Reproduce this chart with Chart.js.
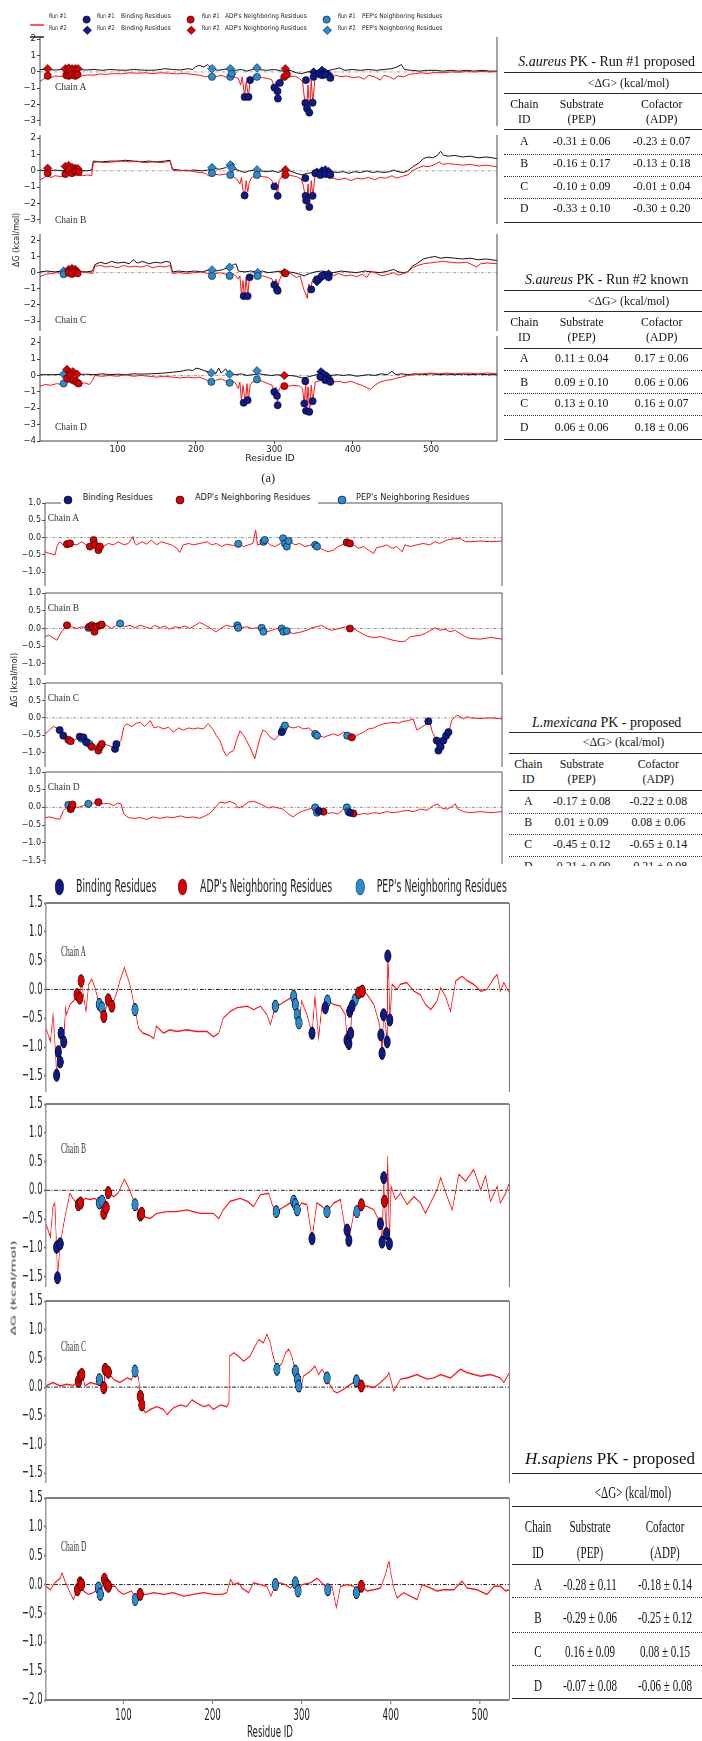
<!DOCTYPE html>
<html>
<head>
<meta charset="utf-8">
<title>Per-residue binding free energy</title>
<script src="https://cdn.jsdelivr.net/npm/chart.js@4.4.1/dist/chart.umd.min.js"></script>
<style>
html,body{margin:0;padding:0;background:#fff;overflow:hidden}
#page{position:relative;width:702px;height:1741px;overflow:hidden;background:#fff}
#clipB{position:absolute;left:0;top:0;width:702px;height:866px;overflow:hidden}
#sq{position:absolute;left:0;top:0;width:1300px;height:1741px;transform:scaleX(0.54);transform-origin:0 0}
canvas{position:absolute}
.t{position:absolute;white-space:nowrap;line-height:1}
.hl{position:absolute;height:0}
</style>
</head>
<body>
<div id="page"><div id="clipB"></div><div id="sq"></div></div>
<script>
const K = 0.54; // panel (c) is horizontally squeezed in the source figure

// ---------- panel (a): S. aureus PK, [residue, dG] ----------
const aRun1A = [[1,-0.6],[5,-0.45],[10,-0.3],[15,-0.35],[20,-0.25],[28,-0.28],[35,-0.22],[42,-0.25],[50,-0.2],[55,-0.25],[62,-0.18],[70,-0.2],[78,-0.12],[85,-0.15],[95,-0.1],[105,-0.12],[115,-0.05],[125,-0.08],[135,-0.05],[145,-0.1],[155,-0.05],[165,-0.08],[175,-0.12],[185,-0.08],[195,-0.15],[205,-0.2],[212,-0.3],[218,-0.25],[225,-0.3],[232,-0.2],[240,-0.35],[248,-0.3],[254,-0.4],[257,-0.8],[259,-0.3],[262,-1.5],[264,-0.6],[267,-1.5],[269,-0.5],[272,-0.3],[278,-0.3],[285,-0.35],[292,-0.4],[297,-0.5],[300,-1.0],[302,-0.6],[304,-1.6],[306,-0.7],[309,-0.3],[314,-0.2],[320,-0.3],[326,-0.25],[332,-0.4],[336,-0.6],[339,-1.9],[341,-2.3],[343,-0.8],[345,-2.5],[347,-0.5],[349,-1.9],[352,-0.3],[358,-0.2],[365,-0.15],[372,-0.35],[378,-0.2],[385,-0.3],[392,-0.25],[400,-0.35],[408,-0.3],[415,-0.45],[420,-0.2],[428,-0.3],[435,-0.5],[440,-0.2],[447,-0.3],[452,-0.45],[458,-0.25],[465,-0.3],[472,-0.15],[480,-0.1],[488,-0.05],[495,-0.1],[505,-0.03],[515,-0.05],[525,0],[535,-0.02],[545,0.02],[555,0],[565,0.03],[575,0],[584,0.02]];
const aRun2A = [[1,0.15],[10,0.15],[20,0.12],[30,0.15],[40,0.1],[50,0.15],[60,0.12],[70,0.15],[80,0.1],[90,0.15],[100,0.12],[110,0.1],[120,0.15],[130,0.12],[140,0.1],[150,0.12],[160,0.2],[170,0.15],[180,0.12],[190,0.2],[196,0.15],[200,0.35],[205,0.4],[210,0.3],[215,0.45],[220,0.2],[228,0.1],[235,0.15],[242,0.2],[250,0.1],[258,0.15],[265,0.05],[272,0.15],[280,0.15],[290,0.1],[300,0.15],[310,0.05],[320,0.1],[328,-0.05],[335,-0.1],[342,0],[350,0.05],[358,0.1],[365,0.05],[375,0.15],[383,0.25],[390,0.1],[400,0.15],[410,0.1],[420,0.15],[430,0.1],[440,0.15],[450,0.2],[456,0.3],[462,0.45],[466,0.15],[475,0.1],[485,0.05],[495,0.1],[505,0.1],[515,0.05],[525,0.1],[535,0.05],[545,0.1],[555,0.05],[565,0.1],[575,0.05],[584,0.05]];
const aRun1B = [[1,-0.55],[5,-0.45],[10,-0.3],[15,-0.4],[20,-0.3],[28,-0.35],[35,-0.2],[42,-0.28],[50,-0.22],[55,-0.3],[62,-0.25],[67,-0.3],[69,0.5],[75,0.55],[85,0.5],[95,0.55],[105,0.6],[115,0.55],[125,0.6],[135,0.5],[145,0.55],[155,0.5],[162,0.55],[167,0.6],[170,0.05],[178,0],[188,0.05],[198,-0.05],[205,-0.1],[212,-0.15],[216,-0.3],[222,-0.2],[230,-0.25],[238,-0.2],[246,-0.3],[252,-0.5],[256,-0.8],[258,-0.4],[260,-1.2],[262,-1.5],[264,-0.6],[266,-1.3],[268,-0.7],[271,-0.4],[278,-0.3],[285,-0.35],[292,-0.4],[297,-0.6],[300,-1.0],[302,-0.7],[304,-1.5],[306,-0.6],[310,-0.3],[316,-0.25],[322,-0.3],[328,-0.35],[334,-0.5],[337,-0.9],[339,-1.5],[341,-1.9],[343,-0.8],[345,-2.2],[347,-0.6],[349,-1.5],[352,-0.3],[360,-0.25],[368,-0.3],[375,-0.45],[382,-0.55],[390,-0.45],[398,-0.6],[405,-0.45],[412,-0.5],[420,-0.4],[428,-0.55],[435,-0.4],[442,-0.45],[450,-0.3],[456,-0.45],[462,-0.35],[470,-0.25],[476,0],[482,0.15],[490,0.3],[496,0.25],[503,0.35],[510,0.55],[515,0.4],[522,0.45],[530,0.4],[540,0.35],[550,0.4],[560,0.3],[570,0.35],[578,0.3],[584,0.25]];
const aRun2B = [[1,0.05],[10,0],[20,0.05],[30,0],[40,0.1],[50,0.05],[60,0],[67,0.05],[69,0.6],[80,0.55],[90,0.6],[100,0.6],[110,0.65],[120,0.6],[130,0.55],[140,0.6],[150,0.55],[160,0.6],[167,0.65],[170,0.1],[178,0.05],[188,0],[198,0.05],[208,0],[215,0.05],[222,0.15],[230,0.1],[238,0.2],[244,0.4],[247,0.5],[250,0.1],[256,0],[262,-0.1],[268,0],[275,0.05],[282,0],[290,-0.05],[298,0],[305,-0.1],[312,0.05],[320,0],[328,-0.15],[335,-0.25],[342,-0.15],[350,-0.1],[358,0],[365,0.05],[372,-0.05],[380,-0.1],[388,-0.05],[395,-0.15],[402,-0.05],[410,-0.1],[418,0],[425,-0.1],[432,-0.05],[440,-0.1],[447,-0.05],[452,0.05],[458,-0.05],[465,-0.1],[470,0],[478,0.3],[485,0.5],[490,0.75],[496,0.85],[502,0.8],[508,0.95],[512,1.2],[516,0.95],[522,0.9],[530,0.95],[540,0.85],[550,0.9],[560,0.8],[570,0.85],[578,0.8],[584,0.75]];
const aRun1C = [[1,-0.25],[8,-0.1],[15,-0.05],[22,0],[30,-0.05],[38,0.05],[46,0],[54,0.05],[62,0],[68,-0.05],[71,0.4],[78,0.45],[85,0.35],[92,0.4],[100,0.3],[108,0.45],[115,0.35],[122,0.4],[130,0.35],[138,0.45],[145,0.3],[152,0.4],[160,0.35],[167,0.45],[170,-0.05],[178,0],[188,-0.05],[198,0],[208,0.05],[215,-0.05],[222,-0.1],[230,0],[238,-0.1],[245,-0.05],[250,-0.15],[254,-0.4],[256,-0.2],[258,-1.4],[260,-0.5],[262,-1.5],[264,-0.3],[266,-1.5],[268,-0.3],[272,-0.2],[278,-0.15],[285,-0.2],[292,-0.3],[297,-0.4],[300,-0.8],[302,-0.4],[304,-1.1],[306,-0.5],[310,-0.1],[316,0],[322,-0.1],[328,-0.3],[333,-0.2],[336,-0.8],[338,-1.1],[340,-1.3],[342,-1.6],[344,-0.7],[346,-1.0],[349,-0.4],[355,-0.2],[362,-0.3],[368,-0.1],[375,-0.2],[382,-0.05],[390,-0.2],[398,-0.15],[405,-0.25],[412,-0.1],[418,-0.3],[423,0.1],[430,-0.05],[437,-0.2],[445,-0.1],[452,0],[458,-0.15],[465,-0.05],[470,0.05],[476,0.3],[483,0.45],[490,0.55],[498,0.6],[506,0.65],[515,0.7],[525,0.65],[535,0.6],[545,0.65],[552,0.5],[558,0.35],[563,0.55],[572,0.6],[584,0.55]];
const aRun2C = [[1,0.05],[10,0.1],[20,0.05],[30,0.1],[40,0.05],[50,0.1],[60,0.05],[68,0.1],[71,0.5],[78,0.65],[85,0.55],[92,0.7],[100,0.6],[108,0.65],[115,0.55],[120,0.8],[125,0.6],[132,0.7],[140,0.55],[148,0.65],[155,0.6],[162,0.7],[167,0.65],[170,0.05],[178,0.1],[188,0.05],[198,0.1],[208,0.05],[215,0.15],[225,0.1],[235,0.2],[242,0.35],[248,0.5],[251,0.55],[254,0.1],[262,0.05],[270,0.1],[278,0.05],[285,0.1],[292,0],[300,0.05],[310,0.1],[318,0.05],[325,0],[332,-0.1],[338,-0.2],[345,-0.05],[352,0.05],[360,0.1],[368,0.05],[375,0],[385,0.1],[395,0.05],[405,0],[415,0.1],[425,0.05],[435,0],[445,0.1],[452,0.2],[458,0.05],[465,0],[470,0.05],[476,0.4],[483,0.6],[490,0.85],[498,0.95],[505,1.0],[512,0.9],[520,0.95],[530,0.9],[540,0.85],[550,0.9],[560,0.8],[570,0.85],[584,0.75]];
const aRun1D = [[1,-0.65],[8,-0.55],[15,-0.6],[22,-0.5],[30,-0.55],[38,-0.4],[45,-0.45],[52,-0.5],[58,-0.45],[64,-0.55],[68,-0.3],[71,0],[80,-0.05],[90,0],[100,-0.05],[110,0.05],[120,-0.05],[130,0],[140,-0.05],[150,-0.1],[160,-0.05],[170,-0.1],[180,-0.15],[190,-0.1],[198,-0.15],[205,-0.1],[212,-0.25],[218,-0.35],[225,-0.3],[232,-0.2],[238,-0.35],[245,-0.3],[250,-0.45],[254,-0.8],[256,-0.4],[258,-1.5],[260,-0.6],[263,-1.7],[265,-0.5],[267,-1.5],[269,-0.6],[272,-0.4],[278,-0.3],[285,-0.35],[292,-0.5],[297,-0.6],[300,-1.0],[302,-0.7],[304,-1.8],[306,-0.8],[310,-0.65],[318,-0.65],[325,-0.6],[332,-0.65],[336,-0.8],[338,-1.7],[340,-0.5],[341,-2.15],[343,-0.7],[345,-2.25],[347,-0.6],[349,-1.6],[352,-0.4],[360,-0.3],[368,-0.35],[375,-0.4],[382,-0.35],[390,-0.45],[398,-0.35],[405,-0.5],[412,-0.6],[418,-0.75],[423,-0.85],[428,-0.6],[435,-0.4],[442,-0.3],[450,-0.25],[456,-0.15],[462,-0.1],[470,0],[478,0.05],[488,0.1],[498,0.15],[510,0.1],[520,0.15],[530,0.1],[545,0.15],[560,0.1],[572,0.15],[584,0.1]];
const aRun2D = [[1,0.05],[10,0.05],[20,0.05],[30,0.08],[40,0.1],[50,0.05],[60,0.08],[70,0.05],[80,0.1],[90,0.05],[100,0.08],[110,0.05],[120,0.1],[130,0.08],[140,0.1],[150,0.12],[160,0.15],[170,0.2],[180,0.25],[190,0.35],[196,0.3],[200,0.45],[205,0.4],[210,0.3],[218,0.2],[225,0.1],[229,0.45],[232,0.15],[238,0.4],[242,0.1],[250,0.05],[258,0.1],[265,0],[272,0.05],[280,0.1],[288,0.05],[296,0],[305,0.05],[312,-0.05],[320,0],[328,-0.05],[335,-0.15],[342,-0.1],[350,0],[358,0.1],[365,0.05],[372,0],[380,0.05],[388,0],[396,0.05],[405,-0.05],[412,0],[420,0.05],[428,0],[436,0.1],[444,0.05],[450,0.25],[455,0.05],[462,0.1],[470,0.05],[480,0.1],[490,0.05],[500,0.1],[510,0.05],[520,0.08],[530,0.05],[540,0.08],[550,0.05],[560,0.08],[572,0.05],[584,0.05]];

// marked residues, Run #1 (circles) and Run #2 (diamonds)
const aBind1A = [[262,-1.53],[267,-1.53],[269,-0.5],[300,-0.96],[304,-1.18],[304.5,-1.63],[307,-0.67],[339.5,-1.9],[340.3,-0.5],[341.6,-2.24],[344.6,-2.49],[348.8,-1.88],[350,-0.3],[360.7,-0.2],[365,-0.16],[371.4,-0.37]];
const aADP1A = [[10.8,-0.24],[34.6,-0.2],[37.6,-0.24],[41.8,-0.16],[46,-0.24],[49,-0.16],[312.7,-0.3],[316,-0.15]];
const aPEP1A = [[220.4,-0.3],[243.8,-0.3],[245.9,-0.1],[277.8,-0.3]];
const aBind2A = [[350,0],[356.5,-0.1],[360.7,0.1],[365,-0.05],[369.2,-0.16]];
const aADP2A = [[10.8,0.2],[33.3,0.2],[37.6,0.24],[41.8,0.2],[46,0.2],[49.5,0.2],[314,0.2]];
const aPEP2A = [[220.4,0.2],[243.8,0.2],[277.8,0.25]];
const aBind1B = [[262,-1.51],[300,-0.96],[304.2,-1.53],[339.5,-0.45],[339.8,-1.53],[340.5,-1.82],[344.6,-2.22],[348.8,-1.53],[352.2,-0.14],[358.6,-0.25],[365,-0.2],[371.4,-0.25]];
const aADP1B = [[10.8,-0.14],[33.3,-0.2],[37.6,0.06],[41.8,-0.14],[46,-0.04],[50.3,-0.08],[314,-0.25]];
const aPEP1B = [[220.4,-0.14],[243.8,-0.25],[277.8,-0.25]];
const aBind2B = [[354.3,-0.08],[360.7,0],[365,0.06],[369.2,-0.04]];
const aADP2B = [[10.8,0.16],[33.3,0.27],[37.6,0.33],[41.8,0.2],[46,0.16],[49.5,0.12],[314,0.06]];
const aPEP2B = [[220.4,0.2],[243.8,0.37],[245.9,0.16],[277.8,0.06]];
const aBind1C = [[260.8,-1.45],[265.9,-1.45],[268.4,-0.29],[299.9,-0.75],[303.3,-1.04],[304.2,-1.12],[347.1,-1.04],[354.3,-0.41],[360.7,-0.2],[369.2,-0.29]];
const aADP1C = [[37.6,0],[41.8,-0.08],[46.1,0.06],[49,-0.04],[314,-0.04]];
const aPEP1C = [[31.2,-0.1],[220.4,-0.2],[242.9,-0.2],[278.6,-0.2]];
const aBind2C = [[354.3,-0.56],[358.6,-0.35],[362.8,-0.15],[369.2,-0.08]];
const aADP2C = [[37.6,0.2],[41.8,0.25],[46.1,0.2],[312.7,0]];
const aPEP2C = [[31.2,0.1],[220.4,0.17],[242.9,0.33],[278.6,0]];
const aBind1D = [[260.8,-1.67],[265.9,-1.51],[299.9,-1.0],[303.3,-1.24],[304.2,-1.82],[339.5,-0.35],[338.2,-1.71],[340.3,-2.16],[344.6,-2.22],[348.8,-1.57],[358.6,-0.08],[365,-0.29],[371.4,-0.39]];
const aADP1D = [[35.4,-0.18],[39.7,0.02],[43.1,-0.29],[47.3,-0.39],[50.3,-0.49],[312.7,-0.65]];
const aPEP1D = [[31.2,-0.49],[219.6,-0.39],[242.9,-0.45],[277.8,-0.24]];
const aBind2D = [[359.4,0.22],[362.8,0.08],[367.1,-0.04],[369.2,-0.18]];
const aADP2D = [[35.4,0.37],[39.7,0.16],[43.1,0.22],[48.2,0.08],[312.7,0]];
const aPEP2D = [[31.2,0.08],[219.6,0.16],[242.9,0.08],[277.8,0.29]];

// ---------- panel (b): L. mexicana PK ----------
const bA = [[0,-0.41],[5,-0.46],[11,-0.5],[13,-0.26],[16,-0.12],[20,-0.21],[24,-0.17],[29,-0.19],[35,-0.21],[40,-0.12],[45,-0.21],[49,-0.26],[53,-0.1],[56,-0.21],[60,-0.31],[64,-0.26],[69,-0.17],[75,-0.21],[80,-0.12],[86,-0.21],[91,-0.17],[95,-0.02],[96,0.03],[98,-0.17],[100,-0.21],[106,-0.12],[111,-0.19],[116,-0.07],[122,-0.21],[127,-0.12],[133,-0.17],[138,-0.21],[144,-0.31],[147,-0.43],[151,-0.21],[157,-0.17],[162,-0.21],[169,-0.17],[177,-0.12],[182,-0.21],[187,-0.17],[193,-0.26],[198,-0.19],[206,-0.23],[211,-0.18],[217,-0.26],[222,-0.21],[227,-0.17],[230,0.22],[232,-0.21],[237,-0.17],[240,-0.07],[246,-0.21],[251,-0.26],[257,-0.17],[260,-0.07],[263,-0.21],[268,-0.12],[273,-0.21],[278,-0.17],[284,-0.26],[291,-0.21],[297,-0.26],[302,-0.33],[309,-0.41],[315,-0.36],[320,-0.26],[326,-0.19],[331,-0.14],[337,-0.21],[342,-0.31],[348,-0.26],[353,-0.36],[359,-0.46],[362,-0.29],[368,-0.26],[373,-0.21],[379,-0.31],[384,-0.26],[390,-0.41],[393,-0.21],[399,-0.26],[406,-0.21],[413,-0.17],[420,-0.21],[426,-0.12],[431,-0.17],[439,-0.07],[446,-0.04],[453,-0.02],[459,-0.12],[464,-0.12],[475,-0.1],[487,-0.12],[499,-0.1]];
const bB = [[0,-0.23],[4,-0.19],[9,-0.26],[13,-0.33],[18,-0.09],[24,0.09],[29,0.05],[35,0],[40,0.05],[45,0.02],[49,0.05],[54,-0.09],[56,0.05],[60,0.09],[64,0.05],[67,0.09],[73,0],[78,0.09],[82,0.14],[87,0.05],[93,0.09],[98,0.02],[104,0.09],[109,0.05],[115,0],[120,0.09],[126,0.02],[131,0.07],[136,-0.02],[142,0.05],[147,0.02],[153,0.07],[158,0],[164,0.09],[169,0.17],[174,0.11],[178,0.05],[184,-0.05],[187,-0.09],[193,0.02],[198,0.09],[204,0.05],[209,0.09],[215,0.02],[220,0.05],[226,0],[231,0.02],[237,-0.05],[242,-0.09],[248,-0.05],[253,0],[258,-0.02],[264,-0.09],[271,-0.14],[278,-0.11],[286,-0.05],[291,0.02],[297,0.05],[302,0.09],[308,0],[313,-0.05],[318,-0.02],[324,0.02],[329,0.05],[335,0.02],[340,-0.05],[346,-0.14],[351,-0.21],[359,-0.26],[366,-0.23],[373,-0.28],[380,-0.33],[388,-0.37],[393,-0.36],[399,-0.23],[404,-0.21],[410,-0.19],[415,-0.14],[420,-0.07],[426,0.02],[431,-0.05],[437,-0.02],[442,-0.09],[448,-0.05],[453,-0.14],[459,-0.23],[464,-0.28],[475,-0.3],[487,-0.25],[499,-0.3]];
const bC = [[0,-0.46],[4,-0.37],[9,-0.25],[13,-0.29],[16,-0.35],[22,-0.56],[27,-0.65],[33,-0.63],[38,-0.54],[44,-0.65],[47,-0.75],[51,-0.83],[55,-0.8],[58,-0.94],[62,-0.75],[67,-0.77],[73,-0.83],[76,-0.89],[80,-0.75],[83,-0.65],[86,-0.27],[89,-0.17],[95,-0.25],[100,-0.15],[104,-0.13],[109,-0.25],[115,-0.08],[119,-0.29],[124,-0.25],[129,-0.32],[135,-0.27],[140,-0.41],[146,-0.29],[151,-0.35],[157,-0.29],[162,-0.32],[167,-0.29],[173,-0.32],[178,-0.17],[184,-0.35],[187,-0.51],[191,-0.65],[195,-0.94],[198,-1.09],[202,-0.99],[206,-0.94],[209,-0.65],[213,-0.37],[217,-0.51],[220,-0.65],[224,-0.85],[227,-1.04],[229,-1.18],[232,-0.85],[235,-0.56],[238,-0.35],[242,-0.41],[246,-0.56],[251,-0.63],[256,-0.46],[260,-0.29],[266,-0.25],[271,-0.29],[277,-0.25],[282,-0.32],[288,-0.29],[293,-0.41],[298,-0.48],[304,-0.56],[309,-0.51],[315,-0.46],[320,-0.51],[326,-0.41],[331,-0.46],[337,-0.56],[342,-0.48],[348,-0.41],[353,-0.32],[359,-0.29],[364,-0.22],[370,-0.17],[375,-0.15],[380,-0.13],[386,-0.15],[391,-0.1],[397,-0.08],[402,-0.03],[406,-0.35],[411,-0.27],[417,-0.17],[420,-0.1],[423,-0.41],[428,-0.65],[430,-0.94],[433,-0.8],[437,-0.56],[441,-0.41],[444,-0.08],[448,0.04],[451,0.07],[457,-0.03],[461,0.04],[464,0],[475,-0.02],[487,0],[499,-0.03]];
const bD = [[0,-0.29],[5,-0.27],[11,-0.31],[16,-0.34],[20,-0.1],[26,0.05],[31,0.02],[36,0],[42,0.05],[47,0.1],[53,0.12],[58,0.15],[64,0.1],[69,0.12],[75,0.05],[79,0.12],[83,0.1],[86,-0.19],[91,-0.29],[97,-0.31],[104,-0.29],[111,-0.34],[118,-0.27],[126,-0.31],[133,-0.27],[140,-0.29],[148,-0.24],[155,-0.29],[162,-0.27],[169,-0.31],[175,-0.24],[180,-0.17],[186,0],[191,0.15],[197,0.12],[202,0.17],[208,0.1],[211,-0.02],[217,0.05],[222,0.15],[228,0.17],[233,0.12],[239,0.05],[244,-0.02],[249,0.02],[255,-0.02],[260,-0.05],[266,-0.19],[271,-0.27],[277,-0.15],[282,-0.1],[288,-0.05],[293,0],[299,-0.15],[304,-0.12],[309,-0.17],[315,-0.15],[320,-0.19],[326,-0.05],[331,-0.02],[337,-0.17],[342,-0.21],[348,-0.17],[353,-0.19],[359,-0.15],[366,-0.17],[373,-0.12],[380,-0.15],[388,-0.12],[395,-0.08],[402,-0.12],[410,-0.05],[417,-0.08],[424,0.05],[429,0.1],[433,-0.02],[439,-0.05],[444,0.02],[448,0.1],[451,-0.05],[457,-0.12],[464,-0.15],[475,-0.12],[487,-0.15],[499,-0.12]];
const bBindA = [];
const bADPA = [[24,-0.19],[27.3,-0.17],[49,-0.26],[53,-0.07],[54.6,-0.21],[58.3,-0.36],[60,-0.26],[329.5,-0.14],[333,-0.17]];
const bPEPA = [[211,-0.18],[238.5,-0.12],[240,-0.07],[260,-0.02],[262,-0.17],[264,-0.26],[266,-0.1],[295,-0.21],[297,-0.26]];
const bBindB = [];
const bADPB = [[24,0.09],[48.5,0.05],[51,0.09],[53,0.02],[54,-0.09],[56.5,0.05],[60,0.09],[62,0.11],[333,0]];
const bPEPB = [[47.4,0.02],[82,0.14],[210,0.09],[211,0.02],[236.6,0.02],[238.5,-0.09],[258.5,0],[260.3,-0.09],[264,-0.07]];
const bBindC = [[16,-0.35],[20,-0.51],[38,-0.54],[42,-0.56],[45,-0.7],[76.5,-0.89],[78,-0.75],[258.5,-0.41],[418.6,-0.1],[427.7,-0.65],[429.6,-0.94],[432,-0.83],[435,-0.65],[438,-0.51],[440.5,-0.41]];
const bADPC = [[25.5,-0.63],[28,-0.67],[51,-0.83],[58.3,-0.94],[60,-0.83],[62,-0.75],[335,-0.56]];
const bPEPC = [[40,-0.6],[46,-0.7],[48.5,-0.75],[260,-0.32],[262,-0.22],[295,-0.46],[297,-0.51],[330,-0.51],[431,-0.75]];
const bBindD = [[299,-0.1],[333,-0.15]];
const bADPD = [[28,-0.05],[29,0],[30,0.08],[58.3,0.15],[304,-0.12],[336.7,-0.17]];
const bPEPD = [[25.5,0.07],[47.4,0.1],[295,0],[297,-0.15],[329.5,0],[331.3,-0.12]];

// ---------- panel (c): H. sapiens PK ----------
const cA = [[13,-0.67],[18,-0.9],[21,-0.44],[23,-0.9],[25,-1.49],[27,-1.08],[29,-1.26],[30,-0.76],[33,-0.91],[35,-0.32],[36,-0.44],[40,-0.26],[44,-0.2],[48,-0.09],[51,-0.15],[52.5,0.15],[55,-0.09],[58,-0.38],[61,0.09],[64.5,0.18],[68,0.03],[73,-0.26],[76,-0.32],[78,-0.47],[83,-0.18],[87,-0.29],[93,-0.03],[96,0.15],[101,0.38],[106,0.15],[109,-0.03],[113,-0.35],[117,-0.67],[122,-0.76],[128,-0.79],[134,-0.85],[137,-0.64],[145,-0.76],[152,-0.7],[160,-0.73],[171,-0.7],[182,-0.73],[194,-0.73],[201,-0.82],[207,-0.76],[212,-0.5],[220,-0.38],[227,-0.32],[239,-0.29],[246,-0.35],[254,-0.29],[261,-0.44],[265,-0.61],[270.5,-0.29],[276,-0.26],[284,-0.18],[291,-0.12],[293,-0.26],[295,-0.44],[297,-0.58],[300,-0.2],[306,-0.44],[311.7,-0.76],[315,-0.12],[319,-0.85],[323,-0.26],[326.6,-0.32],[329,-0.2],[336,-0.26],[343.5,-0.29],[349,-0.44],[351,-0.88],[353,-0.94],[355,-0.76],[356.6,-0.29],[360,-0.18],[364,-0.06],[368,-0.03],[373.5,-0.09],[381,-0.26],[386.6,-0.56],[389,-0.79],[390.3,-1.11],[392,-0.44],[394,-0.61],[396,-0.91],[396.7,0.58],[398,0.15],[399,-0.53],[401.5,0.09],[407,0],[411,0.09],[418,0.12],[426,-0.03],[433,-0.09],[439,-0.26],[445,-0.35],[452,-0.2],[456,0.03],[461.5,-0.12],[467,-0.38],[473,0.15],[480,0.23],[486,0.15],[493,0.09],[501,-0.03],[508,0],[516,0.2],[519.5,0.26],[523,-0.03],[527,0.12],[533,-0.06]];
const cB = [[13,-0.58],[18,-0.81],[21,-0.28],[23,-0.22],[25,-0.99],[26,-1.52],[29,-0.93],[33,-0.58],[36,-0.34],[40,-0.05],[44,-0.16],[49.5,-0.25],[52,-0.22],[57,-0.14],[62.6,-0.16],[68,-0.14],[73,-0.22],[76,-0.19],[78,-0.4],[80.6,-0.14],[83,-0.04],[89,-0.11],[94,-0.05],[101,0.19],[106,0.04],[109,-0.08],[113,-0.25],[119,-0.43],[122.5,-0.46],[130,-0.49],[137.5,-0.4],[149,-0.37],[160,-0.37],[171,-0.34],[186,-0.4],[201,-0.4],[207,-0.49],[212,-0.34],[220,-0.19],[231,-0.14],[239,-0.19],[246,-0.28],[253.6,-0.08],[263,-0.05],[267,-0.25],[271.6,-0.37],[278,-0.31],[287,-0.22],[291,-0.19],[295,-0.34],[300,-0.22],[306,-0.25],[311.7,-0.84],[317,-0.22],[323,-0.28],[328.5,-0.37],[336,-0.22],[343.5,-0.16],[349,-0.69],[351,-0.69],[353,-0.87],[358.5,-0.4],[362,-0.37],[367,-0.25],[373.5,-0.28],[381,-0.34],[386.6,-0.52],[388.4,-0.58],[390.3,-0.9],[392.2,0.22],[393,-0.19],[395.2,-0.75],[396.7,0.6],[398.5,-0.93],[400.4,0.07],[405.3,-0.16],[411,-0.05],[418.4,-0.25],[426,-0.11],[433.4,-0.22],[439,-0.4],[444.6,-0.22],[452,0.01],[456,0.22],[463.3,-0.11],[469,-0.34],[476.4,0.28],[484,0.16],[493,0.36],[501,0.01],[506.4,0.25],[512,-0.19],[519.5,0.07],[523,-0.22],[529,-0.05],[533,0.13]];
const cC = [[13,0.02],[21,0.08],[29,0.02],[36,0.05],[44,0.03],[49.5,0.1],[51.4,0.19],[53.3,0.22],[57,0.02],[62.6,0.08],[70,0.05],[73,0.13],[76,0.19],[78,-0.01],[79.5,0.31],[83,0.26],[89,0.13],[96,0.08],[104,0.16],[109,0.13],[113,0.28],[117,0.16],[119,-0.16],[120.7,-0.31],[124.4,-0.45],[130,-0.39],[137.5,-0.34],[145,-0.39],[149,-0.48],[156,-0.36],[164,-0.31],[171,-0.34],[177,-0.22],[182.5,-0.28],[190,-0.34],[196,-0.31],[201,-0.39],[209,-0.31],[216,-0.34],[218.4,-0.28],[219.2,0.54],[224,0.6],[229,0.54],[235,0.45],[242,0.54],[248,0.72],[252,0.83],[257,0.77],[261,0.92],[265,0.77],[267,0.6],[272.3,0.31],[278,0.42],[282,0.6],[285.4,0.66],[289,0.54],[293,0.28],[295.6,0.13],[296.7,0.02],[298.6,-0.07],[302,0.19],[310,0.28],[315,0.37],[319,0.22],[323,0.31],[328.5,0.16],[330.4,0.08],[336,-0.07],[340,-0.1],[347,-0.04],[355,0.05],[361.5,0.11],[367,0.02],[373.5,0.02],[381,-0.01],[388.4,0.08],[396,0.19],[398,0.25],[403.4,-0.07],[411,0.14],[418.4,0.16],[429.6,0.22],[433.4,0.19],[441,0.14],[448.4,0.16],[456,0.22],[467,0.16],[478.3,0.31],[486,0.25],[501,0.19],[512,0.22],[523,0.16],[527,0.08],[533,0.25]];
const cD = [[13,-0.03],[18,-0.09],[23,0.03],[29,0.11],[31,0.2],[34.5,0.06],[40,-0.14],[44,-0.26],[47.6,-0.09],[51.4,0.03],[55,-0.11],[60.7,-0.17],[66.4,-0.14],[72,-0.06],[74,-0.17],[78.7,0.09],[81.3,0],[83.2,-0.03],[90.7,-0.03],[94.4,-0.11],[100,-0.17],[109.4,-0.11],[113.2,-0.26],[117,-0.09],[118.8,-0.17],[126,-0.17],[134,-0.14],[145,-0.17],[156,-0.14],[167.5,-0.2],[178.7,-0.17],[190,-0.14],[201,-0.17],[210.5,-0.17],[216.2,-0.14],[220,0.09],[223.7,0],[229.3,0.03],[233,-0.06],[240.5,-0.14],[246,0.03],[253.6,0],[261,-0.03],[265.6,-0.2],[270.5,0],[276,0.03],[281.7,0],[287.3,-0.06],[292.9,0.03],[296,-0.11],[300.4,0],[309.8,0.03],[317.3,0.11],[324.8,0],[329.3,-0.09],[334,-0.03],[339,-0.4],[343.5,-0.03],[351,0],[358.5,-0.03],[361.5,-0.14],[367,-0.03],[373.5,-0.11],[381,-0.09],[388.4,-0.06],[394,0.17],[396.7,0.34],[398.2,0.4],[400.4,0.17],[403.4,-0.06],[407.2,-0.23],[414.6,-0.14],[422,-0.2],[429.6,-0.26],[435.2,0],[444.6,-0.06],[452,-0.11],[459.6,-0.09],[470.8,-0.09],[480,0.06],[485.8,-0.06],[497,-0.09],[508,-0.17],[516,-0.03],[523,-0.03],[529,-0.11],[533,-0.09]];
const cBindA = [[25,-1.49],[27,-1.08],[29,-1.26],[30,-0.76],[33,-0.91],[311.7,-0.76],[326.6,-0.32],[351,-0.88],[353,-0.94],[354,-0.38],[355,-0.76],[356.6,-0.29],[389,-0.79],[390.3,-1.11],[392,-0.44],[396,-0.91],[396.7,0.58],[399,-0.53]];
const cADPA = [[48,-0.09],[51,-0.15],[52.5,0.15],[78,-0.47],[83,-0.18],[87,-0.29],[364,-0.06],[368,-0.03]];
const cPEPA = [[73,-0.26],[76,-0.32],[113,-0.35],[270.5,-0.29],[291,-0.12],[293,-0.26],[295,-0.44],[297,-0.58],[329,-0.2],[360,-0.18]];
const cBindB = [[25,-0.99],[26,-1.52],[29,-0.93],[311.7,-0.84],[351,-0.69],[353,-0.87],[388.4,-0.58],[390.3,-0.9],[392.2,0.22],[395.2,-0.75],[398.5,-0.93]];
const cADPB = [[49.5,-0.25],[52,-0.22],[78,-0.4],[80.6,-0.3],[83,-0.04],[119,-0.43],[120.5,-0.4],[367,-0.25],[393,-0.19]];
const cPEPB = [[73,-0.22],[76,-0.19],[113,-0.25],[271.6,-0.37],[291,-0.19],[293,-0.25],[295,-0.34],[328.5,-0.37],[362,-0.37]];
const cBindC = [];
const cADPC = [[49.5,0.1],[51.4,0.19],[53.3,0.22],[78,-0.01],[79.5,0.31],[83,0.26],[119,-0.16],[120.7,-0.31],[367,0.02]];
const cPEPC = [[73,0.13],[113,0.28],[272.3,0.31],[293,0.28],[295.6,0.13],[296.7,0.02],[328.5,0.16],[361.5,0.11]];
const cBindD = [];
const cADPD = [[48.4,-0.09],[51.4,0.03],[53,0],[78.7,0.09],[81.3,0],[83.2,-0.03],[118.8,-0.17],[367,-0.03]];
const cPEPD = [[72,-0.06],[74,-0.17],[113.2,-0.26],[270.5,0],[292.9,0.03],[296,-0.11],[329.3,-0.09],[361.5,-0.14]];

// tick labels
const resTicks = [100, 200, 300, 400, 500];
const aTicks = [2, 1, 0, -1, -2, -3];
const aTicksD = [2, 1, 0, -1, -2, -3, -4];
const bTicks = [1, 0.5, 0, -0.5, -1];
const bTicksD = [1, 0.5, 0, -0.5, -1, -1.5];
const cTicks = [1.5, 1, 0.5, 0, -0.5, -1, -1.5];
const cTicksD = [1.5, 1, 0.5, 0, -0.5, -1, -1.5, -2];

// tables <dG> (kcal/mol)
const chainIds = ['A', 'B', 'C', 'D'];
const saRun1Sub = ['-0.31 ± 0.06', '-0.16 ± 0.17', '-0.10 ± 0.09', '-0.33 ± 0.10'];
const saRun1Cof = ['-0.23 ± 0.07', '-0.13 ± 0.18', '-0.01 ± 0.04', '-0.30 ± 0.20'];
const saRun2Sub = ['0.11 ± 0.04', '0.09 ± 0.10', '0.13 ± 0.10', '0.06 ± 0.06'];
const saRun2Cof = ['0.17 ± 0.06', '0.06 ± 0.06', '0.16 ± 0.07', '0.18 ± 0.06'];
const lmSub = ['-0.17 ± 0.08', '0.01 ± 0.09', '-0.45 ± 0.12', '-0.21 ± 0.09'];
const lmCof = ['-0.22 ± 0.08', '0.08 ± 0.06', '-0.65 ± 0.14', '-0.21 ± 0.08'];
const hsSub = ['-0.28 ± 0.11', '-0.29 ± 0.06', '0.16 ± 0.09', '-0.07 ± 0.08'];
const hsCof = ['-0.18 ± 0.14', '-0.25 ± 0.12', '0.08 ± 0.15', '-0.06 ± 0.08'];

const RED = '#ff1414', BLK = '#111111', BIND = '#0c1a8a', ADP = '#dc0000', PEP = '#2a8ad2';

const page = document.getElementById('page');
const clipB = document.getElementById('clipB');
const sq = document.getElementById('sq');

const spines = {
  id: 'spines',
  afterDatasetsDraw(chart, args, o) {
    const a = chart.chartArea, c = chart.ctx;
    c.save();
    c.strokeStyle = o.color;
    c.lineWidth = o.width;
    c.beginPath();
    c.moveTo(a.left, a.top); c.lineTo(a.left, a.bottom);
    c.moveTo(a.right, a.top); c.lineTo(a.right, a.bottom);
    if (o.top) { c.moveTo(a.left, a.top); c.lineTo(a.right, a.top); }
    if (o.bottom) { c.moveTo(a.left, a.bottom); c.lineTo(a.right, a.bottom); }
    c.stroke();
    c.restore();
  }
};

function fmt(v, d) {
  return (v < 0 ? '\u2212' : '') + Math.abs(v).toFixed(d);
}

function chainChart(p) {
  const pad = 24;
  const xh = p.xTicks ? p.xh : 0;
  const T = Math.round(p.T), hArea = Math.round(p.B) - T;
  const w = Math.round(p.R) + pad;
  const h = hArea + pad + (p.xTicks ? xh : pad);
  const cv = document.createElement('canvas');
  cv.width = w; cv.height = h;
  cv.style.left = '0px'; cv.style.top = (T - pad) + 'px';
  cv.style.width = w + 'px'; cv.style.height = h + 'px';
  p.parent.appendChild(cv);

  const ds = [];
  p.marks.forEach(m => ds.push({
    data: m.data, showLine: false, pointStyle: m.style, pointRadius: m.r,
    pointBackgroundColor: m.color, pointBorderColor: '#000', pointBorderWidth: p.mw,
    borderColor: m.color, backgroundColor: m.color
  }));
  p.lines.forEach(l => ds.push({
    data: l.data, borderColor: l.color, borderWidth: l.w, pointRadius: 0, tension: 0, fill: false
  }));
  ds.push({
    data: [[p.xmin, 0], [p.xmax, 0]], borderColor: p.zero.color, borderWidth: p.zero.w,
    borderDash: p.zero.dash, pointRadius: 0
  });

  const tickGrid = { drawOnChartArea: false, tickLength: p.tl, tickWidth: p.sw, color: p.spine };
  return new Chart(cv, {
    type: 'line',
    data: { datasets: ds },
    options: {
      responsive: false, animation: false, devicePixelRatio: 1, events: [],
      layout: { padding: { left: 0, top: pad, right: pad, bottom: p.xTicks ? 0 : pad }, autoPadding: false },
      plugins: {
        legend: { display: false }, tooltip: { enabled: false },
        spines: { color: p.spine, width: p.sw, top: p.top, bottom: !!p.xTicks }
      },
      scales: {
        x: {
          type: 'linear', min: p.xmin, max: p.xmax, display: !!p.xTicks,
          afterBuildTicks: s => { if (p.xTicks) s.ticks = p.xTicks.map(v => ({ value: v })); },
          afterFit: s => { s.height = xh; },
          grid: tickGrid, border: { display: false },
          ticks: { autoSkip: false, maxRotation: 0, padding: p.tp, font: p.font, color: '#222', callback: v => String(v) }
        },
        y: {
          min: p.ymin, max: p.ymax,
          afterBuildTicks: s => { s.ticks = p.yTicks.map(v => ({ value: v })); },
          afterFit: s => { s.width = Math.round(p.L); },
          grid: tickGrid, border: { display: false },
          ticks: { autoSkip: false, padding: p.tp, font: p.font, color: '#222', callback: v => fmt(v, p.dec) }
        }
      }
    },
    plugins: [spines]
  });
}

function txt(par, s, x, y, css, align, sx) {
  const d = document.createElement('div');
  d.className = 't';
  d.innerHTML = s;
  d.style.cssText += css;
  d.style.left = x + 'px';
  d.style.top = y + 'px';
  const k = sx ? ' scaleX(' + sx + ')' : '';
  if (align === 'l') { d.style.transformOrigin = '0 50%'; d.style.transform = 'translate(0,-50%)' + k; }
  else if (align === 'r') { d.style.transform = 'translate(-50%,-50%) rotate(-90deg)'; }
  else { d.style.transform = 'translate(-50%,-50%)' + k; }
  par.appendChild(d);
  return d;
}

function hline(par, x0, x1, y, css) {
  const d = document.createElement('div');
  d.className = 'hl';
  d.style.left = x0 + 'px'; d.style.top = y + 'px'; d.style.width = (x1 - x0) + 'px';
  d.style.borderTop = css;
  par.appendChild(d);
}

function glyph(par, kind, color, x, y, r) {
  const w = kind === 'line' ? 14 : 2 * r + 2, h = kind === 'line' ? 4 : 2 * r + 2;
  let inner;
  if (kind === 'line') inner = `<line x1="0" y1="2" x2="14" y2="2" stroke="${color}" stroke-width="1.4"/>`;
  else if (kind === 'diamond') inner = `<polygon points="${w / 2},1 ${w - 1},${h / 2} ${w / 2},${h - 1} 1,${h / 2}" fill="${color}" stroke="#000" stroke-width="0.5"/>`;
  else inner = `<circle cx="${w / 2}" cy="${h / 2}" r="${r}" fill="${color}" stroke="#000" stroke-width="0.6"/>`;
  const d = document.createElement('div');
  d.className = 't';
  d.style.left = (x - w / 2) + 'px'; d.style.top = (y - h / 2) + 'px';
  d.innerHTML = `<svg width="${w}" height="${h}" viewBox="0 0 ${w} ${h}">${inner}</svg>`;
  par.appendChild(d);
}

function table(par, t) {
  const f = "font-family:'Liberation Serif','Times New Roman',serif;color:#111;";
  txt(par, t.title, t.tx, t.ty, f + 'font-size:' + t.fT + 'px', 'c', t.sT);
  const fs = f + 'font-size:' + t.fB + 'px';
  txt(par, '&lt;\u0394G&gt; (kcal/mol)', t.dx, t.dy, fs, 'c', t.sx);
  txt(par, 'Chain', t.cx[0], t.hy[0], fs, 'c', t.sx);
  txt(par, 'ID', t.cx[0], t.hy[1], fs, 'c', t.sx);
  txt(par, 'Substrate', t.cx[1], t.hy[0], fs, 'c', t.sx);
  txt(par, '(PEP)', t.cx[1], t.hy[1], fs, 'c', t.sx);
  txt(par, 'Cofactor', t.cx[2], t.hy[0], fs, 'c', t.sx);
  txt(par, '(ADP)', t.cx[2], t.hy[1], fs, 'c', t.sx);
  t.solid.forEach(y => hline(par, t.x0, t.x1, y, t.lw + 'px solid #2a2a2a'));
  t.dots.forEach(y => hline(par, t.x0, t.x1, y, '1.5px dotted #333'));
  t.ry.forEach((y, i) => {
    txt(par, chainIds[i], t.cx[0], y, fs, 'c', t.sx);
    txt(par, t.sub[i], t.cx[1], y, fs, 'c', t.sx);
    txt(par, t.cof[i], t.cx[2], y, fs, 'c', t.sx);
  });
}

// ================= panel (a) =================
const aFont = { family: "'DejaVu Sans', sans-serif", size: 8.5 };
const aZero = { color: '#8a8a8a', w: 0.8, dash: [3, 1.5, 1, 1.5] };
function aMarks(b1, d1, p1, b2, d2, p2) {
  return [
    { data: b1, color: BIND, style: 'circle', r: 3.6 },
    { data: d1, color: ADP, style: 'circle', r: 3.6 },
    { data: p1, color: PEP, style: 'circle', r: 3.6 },
    { data: b2, color: BIND, style: 'rectRot', r: 4.3 },
    { data: d2, color: ADP, style: 'rectRot', r: 4.3 },
    { data: p2, color: PEP, style: 'rectRot', r: 4.3 }
  ];
}
const aBase = { parent: page, L: 40, R: 496.5, xmin: 1, xmax: 584, dec: 0, font: aFont, spine: '#444', sw: 1, tl: 3, tp: 1, mw: 0.5, zero: aZero, top: false };
chainChart(Object.assign({}, aBase, { T: 36.7, B: 125.7, ymin: -3.31, ymax: 2.14, yTicks: aTicks,
  lines: [{ data: aRun1A, color: RED, w: 1 }, { data: aRun2A, color: BLK, w: 1 }],
  marks: aMarks(aBind1A, aADP1A, aPEP1A, aBind2A, aADP2A, aPEP2A) }));
chainChart(Object.assign({}, aBase, { T: 135, B: 224.3, ymin: -3.26, ymax: 2.2, yTicks: aTicks,
  lines: [{ data: aRun1B, color: RED, w: 1 }, { data: aRun2B, color: BLK, w: 1 }],
  marks: aMarks(aBind1B, aADP1B, aPEP1B, aBind2B, aADP2B, aPEP2B) }));
chainChart(Object.assign({}, aBase, { T: 234, B: 331, ymin: -3.62, ymax: 2.4, yTicks: aTicks,
  lines: [{ data: aRun1C, color: RED, w: 1 }, { data: aRun2C, color: BLK, w: 1 }],
  marks: aMarks(aBind1C, aADP1C, aPEP1C, aBind2C, aADP2C, aPEP2C) }));
chainChart(Object.assign({}, aBase, { T: 336, B: 441, ymin: -4, ymax: 2.41, yTicks: aTicksD, xTicks: resTicks, xh: 14,
  lines: [{ data: aRun1D, color: RED, w: 1 }, { data: aRun2D, color: BLK, w: 1 }],
  marks: aMarks(aBind1D, aADP1D, aPEP1D, aBind2D, aADP2D, aPEP2D) }));

// legend of (a): run tag and description are two separate columns
const aLeg = "font-family:'DejaVu Sans',sans-serif;font-size:6.6px;color:#222;";
glyph(page, 'line', RED, 36.5, 16); txt(page, 'Run #1', 49, 16, aLeg, 'l', 0.72);
glyph(page, 'line', BLK, 36.5, 28); txt(page, 'Run #2', 49, 28, aLeg, 'l', 0.72);
[[87, BIND, 97, 121, 'Binding Residues'], [191, ADP, 202, 225, "ADP's Neighboring Residues"], [327, PEP, 338, 361.7, "PEP's Neighboring Residues"]].forEach(it => {
  glyph(page, 'circle', it[1], it[0], 16, 3.6);
  glyph(page, 'diamond', it[1], it[0], 28, 4.3);
  txt(page, 'Run #1', it[2], 16, aLeg, 'l', 0.72); txt(page, it[4], it[3], 16, aLeg, 'l', 0.88);
  txt(page, 'Run #2', it[2], 28, aLeg, 'l', 0.72); txt(page, it[4], it[3], 28, aLeg, 'l', 0.88);
});
const aChainCss = "font-family:'Liberation Serif',serif;font-size:9.5px;color:#333;";
[['Chain A', 88.3], ['Chain B', 221], ['Chain C', 320.7], ['Chain D', 427.7]].forEach(c => txt(page, c[0], 55, c[1], aChainCss, 'l'));
txt(page, '\u0394G (kcal/mol)', 16.7, 240, "font-family:'DejaVu Sans',sans-serif;font-size:8px;color:#222;", 'r');
txt(page, 'Residue ID', 270, 457.7, "font-family:'DejaVu Sans',sans-serif;font-size:9.3px;color:#222;", 'c');
txt(page, '(a)', 268.3, 478, "font-family:'Liberation Serif',serif;font-size:12.5px;color:#222;", 'c');

table(page, { title: '<i>S.aureus</i> PK - Run #1 proposed', tx: 606.7, ty: 61.7, fT: 14, fB: 11.8,
  x0: 504, x1: 702, lw: 1.3, dx: 628.5, dy: 84, hy: [105, 120], cx: [524.3, 581.7, 661.7],
  solid: [72.3, 93.3, 129.3, 221.7], dots: [154.3, 176, 197.7], ry: [141.7, 164, 186.7, 209.3],
  sub: saRun1Sub, cof: saRun1Cof });
table(page, { title: '<i>S.aureus</i> PK - Run #2 known', tx: 606.7, ty: 280, fT: 14, fB: 11.8,
  x0: 504, x1: 702, lw: 1.3, dx: 628.5, dy: 301.7, hy: [323.3, 337.7], cx: [524.3, 581.7, 661.7],
  solid: [290, 310.7, 348.3, 439.3], dots: [370, 392.7, 415], ry: [359.3, 382.7, 404, 428.3],
  sub: saRun2Sub, cof: saRun2Cof });

// ================= panel (b) =================
const bFont = { family: "'DejaVu Sans', sans-serif", size: 8 };
const bZero = { color: '#777', w: 0.8, dash: [3, 1.5, 1, 1.5] };
function bMarks(bi, ad, pe) {
  return [
    { data: bi, color: BIND, style: 'circle', r: 3.6 },
    { data: ad, color: ADP, style: 'circle', r: 3.6 },
    { data: pe, color: PEP, style: 'circle', r: 3.6 }
  ];
}
const bBase = { parent: page, L: 45, R: 501.7, xmin: 0, xmax: 499, ymax: 1, dec: 1, font: bFont, spine: '#555', sw: 1, tl: 3, tp: 1, mw: 0.6, zero: bZero, top: true };
chainChart(Object.assign({}, bBase, { T: 502.7, B: 585.5, ymin: -1.4, yTicks: bTicks, lines: [{ data: bA, color: RED, w: 1 }], marks: bMarks(bBindA, bADPA, bPEPA) }));
chainChart(Object.assign({}, bBase, { T: 592.7, B: 675, ymin: -1.31, yTicks: bTicks, lines: [{ data: bB, color: RED, w: 1 }], marks: bMarks(bBindB, bADPB, bPEPB) }));
chainChart(Object.assign({}, bBase, { T: 682.7, B: 766.7, ymin: -1.41, yTicks: bTicks, lines: [{ data: bC, color: RED, w: 1 }], marks: bMarks(bBindC, bADPC, bPEPC) }));
chainChart(Object.assign({}, bBase, { T: 772.3, B: 863.8, ymin: -1.6, yTicks: bTicksD, lines: [{ data: bD, color: RED, w: 1 }], marks: bMarks(bBindD, bADPD, bPEPD) }));

const cover = document.createElement('div');
cover.style.cssText = 'position:absolute;left:61px;top:490px;width:257px;height:15px;background:#fff';
page.appendChild(cover);
const bLeg = "font-family:'DejaVu Sans',sans-serif;font-size:8.2px;color:#222;";
[[67.7, BIND, 82.7, 'Binding Residues'], [180, ADP, 195, "ADP's Neighboring Residues"], [341.7, PEP, 356, "PEP's Neighboring Residues"]].forEach(it => {
  glyph(page, 'circle', it[1], it[0], 496.7, 4);
  txt(page, it[3], it[2], 496.7, bLeg, 'l');
});
const bChainCss = "font-family:'Liberation Serif',serif;font-size:9.5px;color:#333;";
[['Chain A', 519], ['Chain B', 609.3], ['Chain C', 699.3], ['Chain D', 788.3]].forEach(c => txt(page, c[0], 47.7, c[1], bChainCss, 'l'));
txt(page, '\u0394G (kcal/mol)', 15, 680, "font-family:'DejaVu Sans',sans-serif;font-size:8px;color:#222;", 'r');

table(clipB, { title: '<i>L.mexicana</i> PK - proposed', tx: 606.7, ty: 722.7, fT: 14, fB: 11.8,
  x0: 509.3, x1: 702, lw: 1.3, dx: 623.5, dy: 742.7, hy: [765, 780], cx: [528.3, 581.7, 658.3],
  solid: [731.7, 752.7, 790], dots: [812.7, 834.3, 855.5], ry: [801.7, 823.3, 845, 867],
  sub: lmSub, cof: lmCof });

// ================= panel (c), drawn in squeezed frame =================
const cFont = { family: "'DejaVu Sans', sans-serif", size: 16 };
const cZero = { color: '#222', w: 1, dash: [7, 3, 2, 3] };
function cMarks(bi, ad, pe) {
  return [
    { data: bi, color: BIND, style: 'circle', r: 6 },
    { data: ad, color: ADP, style: 'circle', r: 6 },
    { data: pe, color: PEP, style: 'circle', r: 6 }
  ];
}
const cBase = { parent: sq, L: 46 / K, R: 509 / K, xmin: 13, xmax: 533, ymax: 1.5, dec: 1, font: cFont, spine: '#808080', sw: 2, tl: 4, tp: 2, mw: 1, zero: cZero, top: true };
chainChart(Object.assign({}, cBase, { T: 903.3, B: 1091.7, ymin: -1.78, yTicks: cTicks, lines: [{ data: cA, color: RED, w: 1.4 }], marks: cMarks(cBindA, cADPA, cPEPA) }));
chainChart(Object.assign({}, cBase, { T: 1103.8, B: 1286.7, ymin: -1.68, yTicks: cTicks, lines: [{ data: cB, color: RED, w: 1.4 }], marks: cMarks(cBindB, cADPB, cPEPB) }));
chainChart(Object.assign({}, cBase, { T: 1301, B: 1483.3, ymin: -1.67, yTicks: cTicks, lines: [{ data: cC, color: RED, w: 1.4 }], marks: cMarks(cBindC, cADPC, cPEPC) }));
chainChart(Object.assign({}, cBase, { T: 1497.7, B: 1700, ymin: -2, yTicks: cTicksD, xTicks: resTicks, xh: 30, lines: [{ data: cD, color: RED, w: 1.4 }], marks: cMarks(cBindD, cADPD, cPEPD) }));

const cLeg = "font-family:'DejaVu Sans',sans-serif;font-size:17.4px;color:#222;";
[[59.3, BIND, 76, 'Binding Residues'], [182.7, ADP, 200, "ADP's Neighboring Residues"], [360, PEP, 376.7, "PEP's Neighboring Residues"]].forEach(it => {
  glyph(sq, 'circle', it[1], it[0] / K, 886.7, 8);
  txt(sq, it[3], it[2] / K, 886.7, cLeg, 'l');
});
const cChainCss = "font-family:'Liberation Serif',serif;font-size:14px;color:#333;";
[['Chain A', 951.7], ['Chain B', 1149], ['Chain C', 1346.7], ['Chain D', 1546.7]].forEach(c => txt(sq, c[0], 61 / K, c[1], cChainCss, 'l'));
txt(sq, '\u0394G (kcal/mol)', 13 / K, 1288, "font-family:'DejaVu Sans',sans-serif;font-size:14px;color:#222;", 'r');
txt(sq, 'Residue ID', 270 / K, 1731.7, "font-family:'DejaVu Sans',sans-serif;font-size:16px;color:#222;", 'c');

table(page, { title: '<i>H.sapiens</i> PK - proposed', tx: 610, ty: 1458, fT: 17, fB: 16, sx: 0.69,
  x0: 512, x1: 702, lw: 1.8, dx: 633, dy: 1493.3, hy: [1526.7, 1553.3], cx: [537.7, 590, 665],
  solid: [1473.3, 1506, 1564.3, 1698.3], dots: [1596.7, 1631.7, 1665], ry: [1585, 1618.3, 1651.7, 1686],
  sub: hsSub, cof: hsCof });
</script>
</body>
</html>
